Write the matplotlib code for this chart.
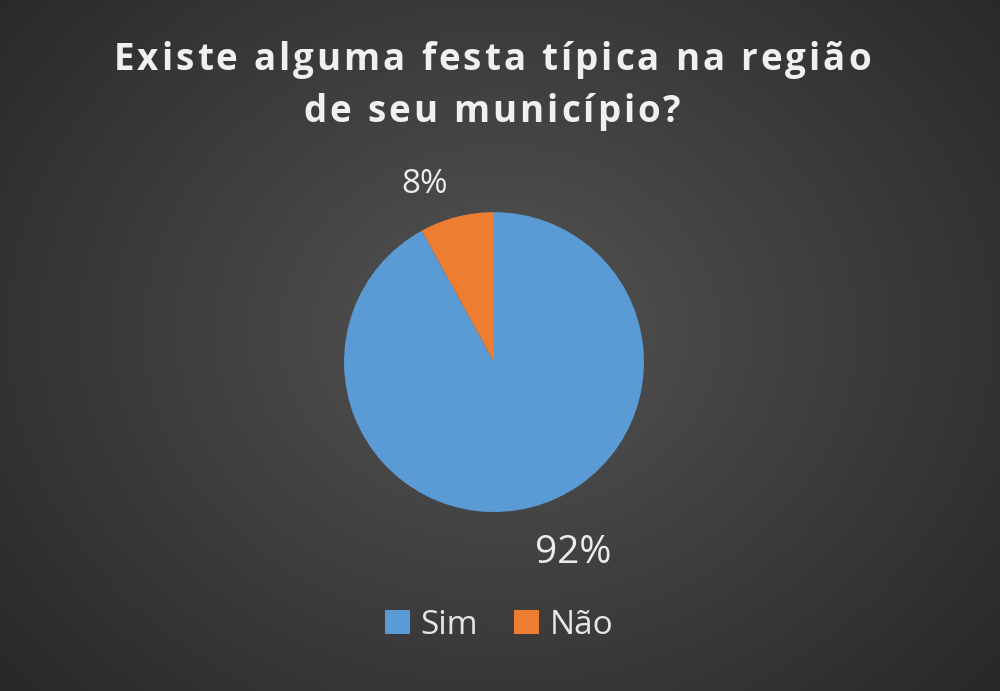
import numpy as np
import matplotlib
matplotlib.use("Agg")
from matplotlib import pyplot as plt

# data
categories = ['Sim', 'Não']
values = [92, 8]
colors = ['#5B9BD5', '#ED7D31']
title_lines = ['Existe alguma festa típica na região', 'de seu município?']

fig = plt.figure(figsize=(10, 6.91), dpi=100)

# radial gradient background
bg = fig.add_axes([0, 0, 1, 1])
yy, xx = np.mgrid[0:691, 0:1000]
d = np.sqrt(((xx - 500) / 620.0) ** 2 + ((yy - 330) / 520.0) ** 2)
shade = np.clip(0.33 - 0.16 * d, 0.15, 0.35)
bg.imshow(shade, cmap='gray', vmin=0, vmax=1, aspect='auto', extent=[0, 1, 0, 1])
bg.set_axis_off()

ax = fig.add_axes([0.269, 0.1505, 0.45, 0.651])
wedges, texts, autotexts = ax.pie(values, colors=colors, startangle=90,
                                  counterclock=False, autopct='%d%%',
                                  wedgeprops=dict(linewidth=0))
ax.set_xlim(-1.5, 1.5)
ax.set_ylim(-1.5, 1.5)
ax.set_aspect('equal')
ax.set_axis_off()

# move the % labels around like the original
sizes = [28, 24]
shifts = [8, 7]   # degrees
dists = [1.38, 1.27]
for w, t, s, sh, r in zip(wedges, autotexts, sizes, shifts, dists):
    ang = np.deg2rad((w.theta1 + w.theta2) / 2 + sh)
    t.set_position((r * np.cos(ang), r * np.sin(ang)))
    t.set_color('#ececec')
    t.set_fontsize(s)
    t.set_family('Open Sans')

# title with letter spacing (draw char by char)
renderer = fig.canvas.get_renderer()
spacing = 3.0  # px between letters
line_y = [0.913, 0.838]
for line, y in zip(title_lines, line_y):
    objs = [fig.text(0, y, ch, ha='left', va='center', color='#f0f0f0',
                     fontsize=26.5, fontweight='bold', family='Open Sans')
            for ch in line]
    widths = []
    for ch, o in zip(line, objs):
        if ch == ' ':
            widths.append(10.0)
        else:
            widths.append(o.get_window_extent(renderer).width)
    total = sum(widths) + spacing * (len(line) - 1)
    x = 492 - total / 2
    for o, wd in zip(objs, widths):
        o.set_x(x / 1000.0)
        x += wd + spacing

leg = fig.legend(wedges, categories, loc='center', bbox_to_anchor=(0.499, 0.095),
                 ncol=2, frameon=False, handlelength=0.75, handleheight=0.75,
                 handletextpad=0.3, columnspacing=1.1,
                 prop={'family': 'Open Sans', 'size': 24})
for t in leg.get_texts():
    t.set_color('#e6e6e6')

fig.savefig('out.png', dpi=100)
